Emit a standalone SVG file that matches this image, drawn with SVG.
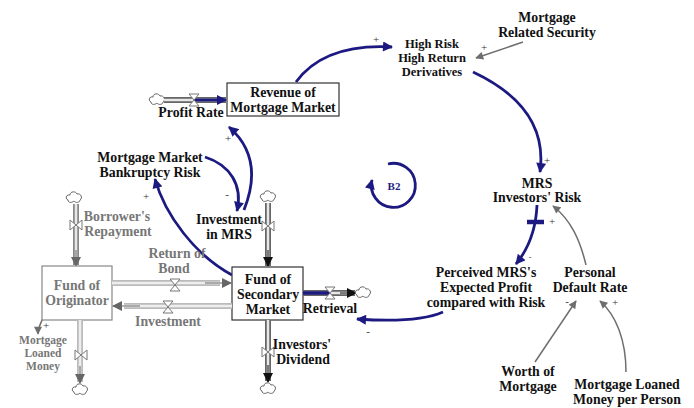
<svg xmlns="http://www.w3.org/2000/svg" width="694" height="408" viewBox="0 0 694 408">
<defs>
<style>
text{font-family:"Liberation Serif","Times New Roman",serif;font-weight:bold;font-size:13.8px;text-anchor:middle;fill:#111}
.g{fill:#777}
.blue{fill:none;stroke:#1c1a80;stroke-width:2.8}
.gray{fill:none;stroke:#6e6e6e;stroke-width:1.5}
.pipeo{fill:none;stroke:#666;stroke-width:6}
.pipei{fill:none;stroke:#e8e8e8;stroke-width:2.5}
.pipeol{fill:none;stroke:#bbb;stroke-width:6}
.pipeil{fill:none;stroke:#eee;stroke-width:2.5}
.valve{fill:#fff;stroke:#777;stroke-width:1}
.cloud{fill:#fff;stroke:#666;stroke-width:1}
.box{fill:#fff;stroke:#333;stroke-width:1.2}
.boxg{fill:#fff;stroke:#888;stroke-width:1.2}
.sign{font-size:11px;font-weight:normal;fill:#333}
</style>
<marker id="ab" viewBox="0 0 10 10" refX="9" refY="5" markerWidth="12" markerHeight="10" markerUnits="userSpaceOnUse" orient="auto"><path d="M0,0 L10,5 L0,10 Z" fill="#1c1a80"/></marker>
<marker id="ag" viewBox="0 0 10 10" refX="9" refY="5" markerWidth="10" markerHeight="8" markerUnits="userSpaceOnUse" orient="auto"><path d="M0,0 L10,5 L0,10 Z" fill="#6e6e6e"/></marker>
<marker id="ak" viewBox="0 0 10 10" refX="9" refY="5" markerWidth="12" markerHeight="10" markerUnits="userSpaceOnUse" orient="auto"><path d="M0,0 L10,5 L0,10 Z" fill="#111"/></marker>
<marker id="akg" viewBox="0 0 10 10" refX="9" refY="5" markerWidth="12" markerHeight="10" markerUnits="userSpaceOnUse" orient="auto"><path d="M0,0 L10,5 L0,10 Z" fill="#666"/></marker>
<path id="cl" d="M-6,2 C-9,1 -8,-4 -4,-3 C-4,-7 2,-7 3,-4 C7,-5 9,0 6,2 C6,5 1,5 0,3 C-2,5 -6,5 -6,2 Z"/>
</defs>

<g id="connectors">
<path class="blue" d="M244,210 C258,175 252,147 229,127" marker-end="url(#ab)"/>
<path class="blue" d="M296,82 C318,52 356,45 392,47" marker-end="url(#ab)"/>
<path class="blue" d="M473,72 C522,95 546,128 540,172" marker-end="url(#ab)"/>
<path class="blue" d="M537,205 C536,230 529,248 516,264" marker-end="url(#ab)"/>
<path class="blue" d="M443,312 C420,322 385,321 357,319" marker-end="url(#ab)"/>
<path class="blue" d="M205,157 C230,165 243,185 237,211" marker-end="url(#ab)"/>
<path class="blue" d="M232,275 C195,255 165,215 155,179" marker-end="url(#ab)"/>
<line x1="527" y1="222" x2="544" y2="222" stroke="#1c1a80" stroke-width="4.5"/>
<path class="gray" d="M523,42 L476,58" marker-end="url(#ag)"/>
<path class="gray" d="M586,265 C580,240 571,220 553,206" marker-end="url(#ag)"/>
<path class="gray" d="M535,362 L576,301" marker-end="url(#ag)"/>
<path class="gray" d="M626,372 C626,340 616,315 600,301" marker-end="url(#ag)"/>
<path class="gray" d="M43,318 C40,325 38,328 38,334" marker-end="url(#ag)"/>
<path class="blue" d="M388,164 A22,22 0 1 1 372,180" stroke-width="2" marker-end="url(#ab)"/>
<text class="sign" x="228" y="142">+</text>
<text class="sign" x="376" y="43">+</text>
<text class="sign" x="484" y="51">+</text>
<text class="sign" x="547" y="164">+</text>
<text class="sign" x="552" y="225">+</text>
<text class="sign" x="530" y="260" style="font-size:8px">-</text>
<text class="sign" x="368" y="335">-</text>
<text class="sign" x="227" y="198">-</text>
<text class="sign" x="146" y="200">+</text>
<text class="sign" x="567" y="305">-</text>
<text class="sign" x="615" y="306">+</text>
<text class="sign" x="46" y="329">+</text>
</g>

<g id="profit-rate">
<use href="#cl" x="157" y="100" class="cloud"/>
<line class="pipeo" x1="164" y1="100" x2="226" y2="100"/>
<line class="pipei" x1="164" y1="100" x2="226" y2="100"/>
<line x1="194" y1="100" x2="226" y2="100" stroke="#1c1a80" stroke-width="2.8" marker-end="url(#ab)"/>
<path class="valve" d="M189,94 L199,94 L189,106 L199,106 Z"/>
<text x="191" y="117">Profit Rate</text>
</g>

<g id="revenue">
<rect class="box" x="227" y="83" width="112" height="33"/>
<text x="283" y="97">Revenue of</text>
<text x="283" y="112">Mortgage Market</text>
</g>

<g id="high-risk">
<text x="432" y="48" style="font-size:12.5px">High Risk</text>
<text x="432" y="62" style="font-size:12.5px">High Return</text>
<text x="432" y="76" style="font-size:12.5px">Derivatives</text>
</g>

<g id="mortgage-related-security">
<text x="547" y="22">Mortgage</text>
<text x="547" y="37">Related Security</text>
</g>

<g id="mrs-investors-risk">
<text x="537" y="188">MRS</text>
<text x="537" y="202">Investors' Risk</text>
</g>

<g id="perceived">
<text x="486" y="277">Perceived MRS's</text>
<text x="486" y="292">Expected Profit</text>
<text x="486" y="307">compared with Risk</text>
</g>

<g id="personal-default-rate">
<text x="590" y="277">Personal</text>
<text x="590" y="292">Default Rate</text>
</g>

<g id="worth-of-mortgage">
<text x="528" y="376">Worth of</text>
<text x="528" y="391">Mortgage</text>
</g>

<g id="loaned-per-person">
<text x="627" y="389">Mortgage Loaned</text>
<text x="627" y="404">Money per Person</text>
</g>

<g id="b2">
<text x="394" y="190" style="fill:#1c1a80;font-size:11px">B2</text>
</g>

<g id="bankruptcy-risk">
<text x="150" y="162">Mortgage Market</text>
<text x="150" y="177">Bankruptcy Risk</text>
</g>

<g id="investment-in-mrs">
<use href="#cl" x="268" y="197" class="cloud"/>
<line class="pipeo" x1="268" y1="203" x2="268" y2="266"/>
<line class="pipei" x1="268" y1="203" x2="268" y2="262"/>
<line x1="268" y1="250" x2="268" y2="266" stroke="#111" stroke-width="1" marker-end="url(#ak)"/>
<path class="valve" d="M262,221 L262,231 L274,221 L274,231 Z"/>
<text x="229" y="224">Investment</text>
<text x="229" y="239">in MRS</text>
</g>

<g id="fund-secondary">
<rect class="box" x="232" y="267" width="71" height="53"/>
<text x="268" y="284">Fund of</text>
<text x="268" y="299">Secondary</text>
<text x="268" y="314">Market</text>
</g>

<g id="retrieval">
<line class="pipeo" x1="303" y1="293" x2="355" y2="293"/>
<line class="pipei" x1="303" y1="293" x2="355" y2="293"/>
<line x1="303" y1="293" x2="330" y2="293" stroke="#1c1a80" stroke-width="3.5"/>
<line x1="340" y1="293" x2="356" y2="293" stroke="#111" stroke-width="1" marker-end="url(#ak)"/>
<path class="valve" d="M325,287 L335,287 L325,299 L335,299 Z"/>
<use href="#cl" x="363" y="293" class="cloud"/>
<text x="330" y="313">Retrieval</text>
</g>

<g id="investors-dividend">
<line class="pipeo" x1="268" y1="320" x2="268" y2="381"/>
<line class="pipei" x1="268" y1="320" x2="268" y2="377"/>
<line x1="268" y1="365" x2="268" y2="382" stroke="#111" stroke-width="1" marker-end="url(#ak)"/>
<path class="valve" d="M262,347 L262,357 L274,347 L274,357 Z"/>
<use href="#cl" x="268" y="389" class="cloud"/>
<text x="302" y="349">Investors'</text>
<text x="303" y="364">Dividend</text>
</g>

<g id="borrowers-repayment">
<use href="#cl" x="74" y="198" class="cloud"/>
<line class="pipeo" x1="76" y1="204" x2="76" y2="265" style="stroke:#888"/>
<line class="pipei" x1="76" y1="204" x2="76" y2="258"/>
<line x1="76" y1="250" x2="76" y2="266" stroke="#666" stroke-width="1" marker-end="url(#akg)"/>
<path class="valve" d="M70,220 L70,230 L82,220 L82,230 Z"/>
<text x="117" y="221" class="g">Borrower's</text>
<text x="118" y="236" class="g">Repayment</text>
</g>

<g id="fund-originator">
<rect class="boxg" x="42" y="266" width="70" height="54"/>
<text x="77" y="290" class="g">Fund of</text>
<text x="77" y="305" class="g">Originator</text>
</g>

<g id="return-of-bond">
<line class="pipeol" x1="112" y1="283" x2="220" y2="283"/>
<line class="pipeil" x1="112" y1="283" x2="220" y2="283"/>
<line x1="205" y1="283" x2="231" y2="283" stroke="#666" stroke-width="1" marker-end="url(#akg)"/>
<path class="valve" d="M170,279 L180,279 L170,291 L180,291 Z"/>
<text x="177" y="258" class="g">Return of</text>
<text x="174" y="273" class="g">Bond</text>
</g>

<g id="investment">
<line class="pipeol" x1="124" y1="306" x2="232" y2="306"/>
<line class="pipeil" x1="124" y1="306" x2="232" y2="306"/>
<line x1="140" y1="306" x2="113" y2="306" stroke="#666" stroke-width="1" marker-end="url(#akg)"/>
<path class="valve" d="M163,301 L173,301 L163,313 L173,313 Z"/>
<text x="168" y="326" class="g">Investment</text>
</g>

<g id="mortgage-loaned-money">
<line class="pipeol" x1="80" y1="320" x2="80" y2="382"/>
<line class="pipeil" x1="80" y1="320" x2="80" y2="376"/>
<line x1="80" y1="366" x2="80" y2="383" stroke="#666" stroke-width="1" marker-end="url(#akg)"/>
<path class="valve" d="M75,350 L75,360 L87,350 L87,360 Z"/>
<use href="#cl" x="80" y="390" class="cloud"/>
<text x="43" y="344" class="g" style="font-size:11.5px">Mortgage</text>
<text x="43" y="357" class="g" style="font-size:11.5px">Loaned</text>
<text x="43" y="370" class="g" style="font-size:11.5px">Money</text>
</g>
</svg>
